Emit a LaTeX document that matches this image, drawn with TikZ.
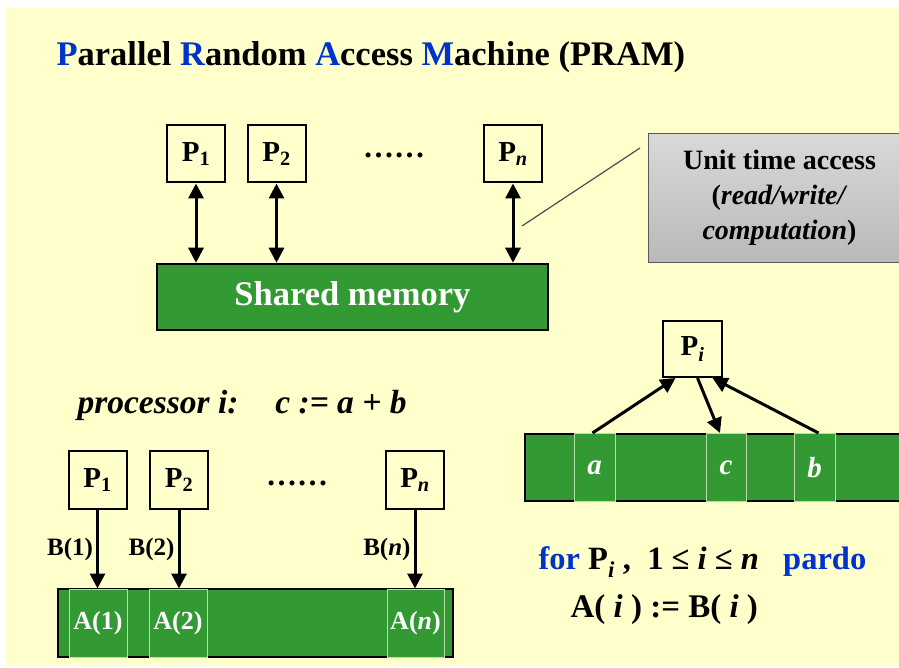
\documentclass[tikz,border=0pt]{standalone}
\usepackage{fontspec}
\setmainfont{Liberation Serif}
\usetikzlibrary{calc,arrows.meta}

\definecolor{fonas}{HTML}{FFFFCC}
\definecolor{atmintis}{HTML}{339933}
\definecolor{melyna}{HTML}{0033CC}
\definecolor{langelis}{HTML}{B8DDA8}

\begin{document}
\begin{tikzpicture}[x=1pt,y=-1pt,
    >={Triangle[length=15pt,width=15pt]},
    proc/.style={draw, line width=2, minimum width=58, minimum height=57, inner sep=0,
        font=\fontsize{29}{30}\selectfont\bfseries},
    mem/.style={draw, line width=2.5, fill=atmintis, inner sep=0, text=white},
    cell/.style={draw=langelis, line width=1, fill=atmintis, inner sep=0, minimum height=68,
        text=white, font=\fontsize{26}{27}\selectfont\bfseries},
    lbl/.style={font=\fontsize{25}{26}\selectfont\bfseries},
    jungtis/.style={line width=3}]
    \useasboundingbox (0,0) rectangle (899,668);
    \clip (0,0) rectangle (899,668);
    \fill[white] (0,0) rectangle (899,668);
    \fill[fonas] (6,8) rectangle (899,666);

    \node[anchor=west, font=\fontsize{34.5}{36}\selectfont\bfseries] (antraste) at (53,57)
        {\textcolor{melyna}{P}arallel \textcolor{melyna}{R}andom \textcolor{melyna}{A}ccess \textcolor{melyna}{M}achine (PRAM)};

    % Bendra atmintis ir procesoriai
    \node[mem, minimum width=391, minimum height=66, font=\fontsize{34.5}{36}\selectfont\bfseries] (atm) at (352.5,297) {Shared memory};
    \node[proc] (p1) at (196,154) {P\textsubscript{1}};
    \node[proc] (p2) at (276.5,154) {P\textsubscript{2}};
    \node[proc] (pn) at (513,154) {P\textsubscript{\textit{n}}};
    \node[font=\fontsize{31}{32}\selectfont\bfseries] (taskai) at (394,155) {……};
    \foreach \p in {p1,p2,pn} {
        \draw[jungtis, <->] (\p.south) -- (\p.south |- atm.north);
    }

    % Paaiškinimas (išeina už krašto)
    \node[draw=gray!70!black, line width=1, top color=gray!30, middle color=white, bottom color=gray!55,
        minimum width=263, minimum height=129,
        align=center, font=\fontsize{28}{35}\selectfont\bfseries] (pastaba) at (779.5,198)
        {Unit time access\\(\textit{read/write/}\\\textit{computation})};
    \coordinate (R1) at (522,226);
    \coordinate (R2) at (640,148);
    \draw[gray!60!black, line width=1.2] (R1) -- (R2);

    % processor i: c := a + b
    \node[anchor=west, font=\fontsize{33.5}{35}\selectfont\bfseries\itshape] (procesorius) at (74,405)
        {processor i:\hspace{1.1em}c := a + b};
    \node[mem, minimum width=390, minimum height=67] (juosta) at (720,467.5) {};
    \node[cell, minimum width=41, font=\fontsize{29}{30}\selectfont\bfseries\itshape] (a) at (594.5,467.5) {a};
    \node[cell, minimum width=40, font=\fontsize{29}{30}\selectfont\bfseries\itshape] (c) at (726,467.5) {c};
    \node[cell, minimum width=41, font=\fontsize{29}{30}\selectfont\bfseries\itshape] (b) at (814.5,467.5) {b};
    \node[proc, minimum width=59, minimum height=56] (pi) at (692.5,349) {P\textsubscript{\textit{i}}};
    \draw[jungtis, ->] ([xshift=-2]a.north) -- ([xshift=-17]pi.south);
    \draw[jungtis, ->] ([xshift=5]pi.south) -- ([xshift=-6]c.north);
    \draw[jungtis, ->] ([xshift=4]b.north) -- ([xshift=20]pi.south);

    % Lygiagretus priskyrimas
    \node[mem, minimum width=395, minimum height=68] (masyvas) at (255.5,623) {};
    \node[cell, minimum width=58] (a1) at (98,623) {A(1)};
    \node[cell, minimum width=58] (a2) at (178,623) {A(2)};
    \node[cell, minimum width=57] (an) at (415.5,623) {A(\textit{n})};
    \node[proc, minimum height=58] (q1) at (97.5,480) {P\textsubscript{1}};
    \node[proc, minimum height=58] (q2) at (179,480) {P\textsubscript{2}};
    \node[proc, minimum height=58] (qn) at (415,480) {P\textsubscript{\textit{n}}};
    \node[font=\fontsize{31}{32}\selectfont\bfseries] (taskai2) at (297,483) {……};
    \foreach \q/\c/\t in {q1/a1/B(1), q2/a2/B(2), qn/an/B(\textit{n})} {
        \draw[jungtis, ->] (\q.south) -- (\q.south |- \c.north) node[midway, left, inner sep=3, lbl] {\t};
    }

    \node[anchor=west, font=\fontsize{32.5}{34}\selectfont\bfseries] (ciklas) at (535,562)
        {\textcolor{melyna}{for} P\textsubscript{\textit{i}} ,\ \ 1 ≤ \textit{i} ≤ \textit{n}\ \ \ \textcolor{melyna}{pardo}};
    \node[anchor=west, font=\fontsize{33}{34}\selectfont\bfseries] (priskyrimas) at (567,610)
        {A( \textit{i} ) := B( \textit{i} )};
\end{tikzpicture}
\end{document}
